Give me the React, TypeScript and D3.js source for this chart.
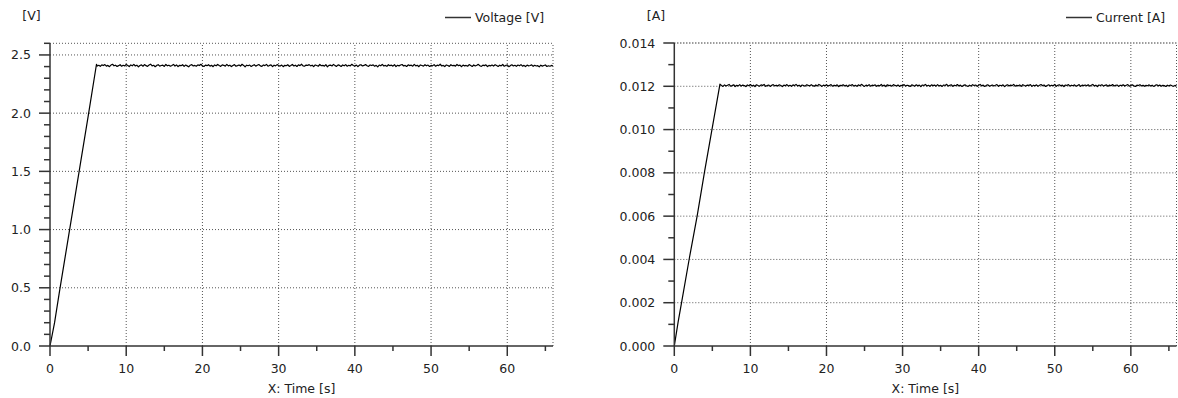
import React from 'react';
import * as d3 from 'd3';

// time step of the logged plateau samples
const plateauStart = 6.2;
const plateauStep = 0.2;

// ramp phase [t, value]
const voltageRamp: [number, number][] = [
  [0, 0], [0.6, 0.2], [1.2, 0.45], [2, 0.77], [3, 1.17], [4, 1.57], [5, 1.97], [6.1, 2.42],
];
const currentRamp: [number, number][] = [
  [0, 0], [0.5, 0.0011], [1, 0.0021], [2, 0.0041], [3, 0.006], [4, 0.0081], [5, 0.0101], [6.0, 0.0121],
];

// plateau in mV
const voltagePlateauMv = [
  2405, 2411, 2402, 2415, 2409, 2417, 2404, 2410, 2399, 2413, 2420, 2407, 2412, 2401, 2408, 2416, 2403, 2411, 2406, 2418,
  2410, 2400, 2414, 2407, 2419, 2405, 2412, 2398, 2409, 2415, 2403, 2417, 2408, 2402, 2413, 2421, 2406, 2411, 2399, 2410,
  2416, 2404, 2409, 2413, 2401, 2418, 2407, 2412, 2403, 2410, 2419, 2405, 2414, 2400, 2411, 2408, 2416, 2402, 2413, 2406,
  2398, 2412, 2417, 2405, 2410, 2403, 2415, 2409, 2420, 2406, 2401, 2413, 2408, 2416, 2404, 2411, 2399, 2414, 2407, 2418,
  2409, 2402, 2415, 2411, 2404, 2419, 2406, 2412, 2400, 2410, 2417, 2403, 2408, 2414, 2405, 2420, 2410, 2398, 2412, 2407,
  2413, 2401, 2409, 2416, 2404, 2411, 2418, 2406, 2402, 2414, 2408, 2419, 2403, 2410, 2415, 2400, 2412, 2406, 2417, 2409,
  2404, 2413, 2399, 2411, 2407, 2416, 2402, 2409, 2418, 2405, 2412, 2401, 2415, 2408, 2420, 2406, 2403, 2413, 2410, 2417,
  2406, 2412, 2400, 2414, 2409, 2403, 2418, 2407, 2411, 2404, 2416, 2398, 2410, 2413, 2405, 2419, 2408, 2402, 2415, 2410,
  2401, 2414, 2407, 2417, 2403, 2411, 2406, 2420, 2409, 2404, 2413, 2400, 2412, 2416, 2405, 2410, 2418, 2407, 2402, 2414,
  2409, 2415, 2403, 2411, 2398, 2413, 2407, 2419, 2405, 2410, 2402, 2416, 2408, 2412, 2404, 2417, 2400, 2411, 2406, 2414,
  2418, 2405, 2410, 2401, 2415, 2408, 2412, 2403, 2419, 2406, 2411, 2399, 2414, 2409, 2404, 2416, 2407, 2413, 2401, 2410,
  2406, 2417, 2403, 2412, 2408, 2420, 2405, 2410, 2400, 2414, 2409, 2402, 2416, 2407, 2411, 2404, 2418, 2408, 2412, 2399,
  2413, 2406, 2410, 2403, 2417, 2409, 2401, 2414, 2405, 2411, 2419, 2407, 2402, 2412, 2408, 2415, 2400, 2410, 2406, 2413,
  2404, 2416, 2409, 2401, 2412, 2406, 2418, 2403, 2410, 2414, 2399, 2408, 2415, 2405, 2411, 2402, 2413, 2407, 2417, 2404,
  2410, 2400, 2413, 2406, 2409, 2415, 2402, 2411, 2405, 2408, 2398, 2412, 2404, 2409, 2414, 2401, 2407, 2403, 2410, 2405,
];

// plateau in µA
const currentPlateauUa = [
  12040, 11995, 12065, 12015, 12050, 12085, 12005, 12030, 12070, 11990, 12045, 12020, 12075, 12010, 12055, 12035, 11985, 12060, 12025, 12080,
  12015, 12050, 11990, 12070, 12035, 12005, 12065, 12040, 12085, 12000, 12030, 12060, 11995, 12045, 12075, 12020, 12050, 12010, 12070, 12035,
  11985, 12055, 12025, 12080, 12010, 12045, 12000, 12065, 12030, 12090, 12015, 12050, 11990, 12060, 12035, 12005, 12070, 12040, 12020, 12075,
  12030, 12000, 12060, 12015, 12085, 12045, 11995, 12055, 12025, 12070, 12010, 12040, 12080, 12005, 12050, 12020, 12065, 11990, 12045, 12030,
  12070, 12015, 12050, 11985, 12060, 12035, 12080, 12010, 12045, 12000, 12065, 12025, 12090, 12040, 11995, 12055, 12020, 12075, 12005, 12050,
  12035, 12065, 12000, 12045, 12020, 12085, 12010, 12055, 11990, 12070, 12030, 12050, 12005, 12075, 12040, 12015, 12060, 11995, 12045, 12025,
  12080, 12010, 12050, 12030, 11990, 12065, 12040, 12005, 12070, 12020, 12055, 11985, 12060, 12035, 12085, 12015, 12045, 12000, 12065, 12030,
  12055, 12005, 12075, 12020, 12045, 11995, 12060, 12035, 12090, 12010, 12040, 12070, 12000, 12050, 12025, 12080, 12015, 12055, 11990, 12040,
  12065, 12025, 11995, 12050, 12010, 12075, 12035, 12060, 12000, 12045, 12085, 12020, 12055, 11990, 12040, 12070, 12005, 12030, 12060, 12015,
  12045, 12080, 12000, 12050, 12025, 12065, 11985, 12040, 12070, 12015, 12055, 12030, 12090, 12005, 12045, 12020, 12060, 11995, 12075, 12035,
  12010, 12055, 12040, 12075, 11995, 12050, 12020, 12065, 12005, 12045, 12080, 12030, 12060, 11990, 12035, 12070, 12015, 12050, 12025, 12085,
  12000, 12045, 12070, 12020, 12055, 11990, 12060, 12035, 12080, 12010, 12050, 12025, 12065, 12005, 12040, 12075, 11995, 12055, 12030, 12060,
  12020, 12070, 12005, 12045, 12085, 12015, 12050, 11990, 12060, 12035, 12075, 12010, 12045, 12065, 12000, 12055, 12025, 12080, 12015, 12040,
  12060, 11995, 12050, 12030, 12070, 12010, 12045, 12080, 12005, 12040, 12065, 12020, 11990, 12055, 12035, 12075, 12015, 12050, 12000, 12045,
  12025, 12065, 12010, 12050, 11995, 12040, 12070, 12020, 12055, 12005, 12045, 12030, 11990, 12050, 12015, 12060, 12025, 12000, 12040, 12010,
];

const xTicks = [0, 10, 20, 30, 40, 50, 60];
const voltageTicks = [0, 0.5, 1.0, 1.5, 2.0, 2.5];
const currentTicks = [0, 0.002, 0.004, 0.006, 0.008, 0.01, 0.012, 0.014];

const font = '"DejaVu Sans", Verdana, sans-serif';
const axisColor = '#333';
const gridColor = '#555';

type PanelProps = {
  left: number;
  right: number;
  top: number;
  bottom: number;
  yMax: number;
  yTicks: number[];
  yMinorStep: number;
  yFormat: (v: number) => string;
  unit: string;
  unitX: number;
  legend: string;
  legendX: number;
  data: [number, number][];
};

const Panel = (p: PanelProps) => {
  const x = d3.scaleLinear().domain([0, 66]).range([p.left, p.right]);
  const y = d3.scaleLinear().domain([0, p.yMax]).range([p.bottom, p.top]);
  const line = d3.line<[number, number]>().x(d => x(d[0])).y(d => y(d[1]));

  const xMinor = d3.range(5, 66, 10);
  const yMinor = d3.range(0, p.yMax + p.yMinorStep / 2, p.yMinorStep)
    .filter(v => !p.yTicks.some(t => Math.abs(t - v) < p.yMinorStep / 10));

  return (
    <g fontFamily={font} fontSize={12.5} fill="#222">
      {/* grid */}
      {p.yTicks.filter(t => t > 0).map(t => (
        <line key={'gy' + t} x1={x(0)} x2={x(66)} y1={y(t)} y2={y(t)}
          stroke={gridColor} strokeDasharray="1 2" />
      ))}
      {xTicks.filter(t => t > 0).map(t => (
        <line key={'gx' + t} x1={x(t)} x2={x(t)} y1={y(0)} y2={y(p.yMax)}
          stroke={gridColor} strokeDasharray="1 2" />
      ))}
      <line x1={x(0)} x2={x(66)} y1={y(p.yMax)} y2={y(p.yMax)} stroke={gridColor} strokeDasharray="1 2" />
      <line x1={x(66)} x2={x(66)} y1={y(0)} y2={y(p.yMax)} stroke={gridColor} strokeDasharray="1 2" />

      {/* data */}
      <path d={line(p.data) || ''} fill="none" stroke="#000" strokeWidth={1.2} strokeLinejoin="round" />

      {/* axes */}
      <line x1={x(0)} x2={x(66)} y1={y(0)} y2={y(0)} stroke={axisColor} strokeWidth={1.5} />
      <line x1={x(0)} x2={x(0)} y1={y(0)} y2={y(p.yMax)} stroke={axisColor} strokeWidth={1.5} />
      {xTicks.map(t => (
        <g key={'xt' + t}>
          <line x1={x(t)} x2={x(t)} y1={y(0)} y2={y(0) + 10} stroke={axisColor} strokeWidth={1.5} />
          <text x={x(t)} y={y(0) + 27} textAnchor="middle">{t}</text>
        </g>
      ))}
      {xMinor.map(t => (
        <line key={'xm' + t} x1={x(t)} x2={x(t)} y1={y(0)} y2={y(0) + 5} stroke={axisColor} strokeWidth={1.5} />
      ))}
      {p.yTicks.map(t => (
        <g key={'yt' + t}>
          <line x1={x(0) - 11} x2={x(0)} y1={y(t)} y2={y(t)} stroke={axisColor} strokeWidth={1.5} />
          <text x={x(0) - 19} y={y(t)} dy="0.36em" textAnchor="end">{p.yFormat(t)}</text>
        </g>
      ))}
      {yMinor.map(t => (
        <line key={'ym' + t} x1={x(0) - 6} x2={x(0)} y1={y(t)} y2={y(t)} stroke={axisColor} strokeWidth={1.5} />
      ))}

      {/* labels */}
      <text x={(p.left + p.right) / 2} y={393} textAnchor="middle">X: Time [s]</text>
      <text x={p.unitX} y={20} textAnchor="middle">{p.unit}</text>
      <line x1={p.legendX} x2={p.legendX + 26} y1={17.5} y2={17.5} stroke={axisColor} strokeWidth={1.5} />
      <text x={p.legendX + 30} y={22}>{p.legend}</text>
    </g>
  );
};

const App = () => {
  const voltageData: [number, number][] = [
    ...voltageRamp,
    ...voltagePlateauMv.map((v, i) => [plateauStart + i * plateauStep, v / 1000] as [number, number]),
  ];
  const currentData: [number, number][] = [
    ...currentRamp,
    ...currentPlateauUa.map((v, i) => [plateauStart + i * plateauStep, v / 1e6] as [number, number]),
  ];
  const f1 = d3.format('.1f');
  const f3 = d3.format('.3f');

  return (
    <svg width={1178} height={398} style={{ position: 'absolute', left: 0, top: 0, background: '#fff' }}>
      <Panel left={50} right={553} top={43.3} bottom={346} yMax={2.6}
        yTicks={voltageTicks} yMinorStep={0.1} yFormat={f1}
        unit="[V]" unitX={31.5} legend="Voltage [V]" legendX={445} data={voltageData} />
      <Panel left={674.3} right={1176.5} top={43} bottom={346} yMax={0.014}
        yTicks={currentTicks} yMinorStep={0.001} yFormat={f3}
        unit="[A]" unitX={656} legend="Current [A]" legendX={1066} data={currentData} />
    </svg>
  );
};

export default App;
